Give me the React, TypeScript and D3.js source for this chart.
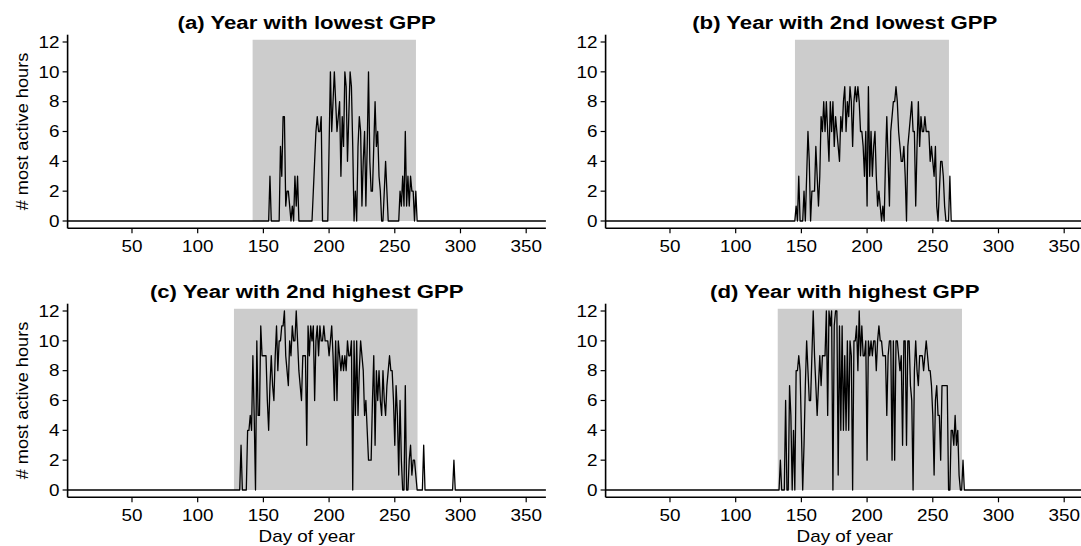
import React from "react";
import * as d3 from "d3";

// ---------- data ----------
const yTicks = [0, 2, 4, 6, 8, 10, 12];
const xTicks = [50, 100, 150, 200, 250, 300, 350];
const titles = [
  "(a) Year with lowest GPP",
  "(b) Year with 2nd lowest GPP",
  "(c) Year with 2nd highest GPP",
  "(d) Year with highest GPP",
];
const yLabel = "# most active hours";
const xLabel = "Day of year";

// growing season (gray band), day of year
const seasonStart = [141.8, 145.1, 127.6, 132.0];
const seasonEnd = [266.1, 262.3, 267.3, 272.2];

// first day of each recorded block; all other days are 0
const firstDay = [152, 145, 128, 132];

const hoursLowest = [
  0, 0, 0, 3, 0, 0, 0, 0, 0, 0, 0, 5, 3, 7, 7, 1, 2, 2, 1, 0, 1, 0, 3, 1, 3, 0,
  0, 0, 0, 0, 0, 0, 0, 0, 0,
  0, 2, 4, 6, 7, 6, 6, 7, 0, 0, 0, 0, 0,
  5, 10, 6, 8, 10, 8, 6, 7, 8, 3,
  7, 5, 10, 9, 4, 7, 10, 9, 5, 0,
  2, 0, 5, 7, 6, 1, 4, 6, 1, 5,
  10, 4, 2, 2, 5, 8, 5, 6, 3, 2,
  0, 0, 2, 4, 2, 0, 0, 0, 0, 0,
  0, 0, 0, 0, 2, 1, 3, 1, 6, 1,
  3, 1, 3, 2, 2, 0, 2, 0,
];

const hours2ndLowest = [
  0, 1, 0, 3, 0, 0, 0, 2, 0, 3, 6, 4, 0, 2, 2,
  2, 5, 3, 1, 3, 7, 6, 8, 6, 8,
  6, 4, 8, 6, 8, 5, 7, 6, 5, 4,
  7, 6, 8, 9, 6, 8, 7, 9, 8, 5,
  8, 9, 8, 9, 8, 6, 6, 5, 3, 6,
  1, 9, 3, 6, 3, 5, 6, 3, 1, 2,
  1, 0, 1, 0, 4, 7, 4, 1, 6, 7,
  8, 8, 9, 8, 6, 5, 4, 4, 5, 3,
  0, 5, 6, 7, 8, 6, 6, 1, 5, 8,
  5, 7, 6, 6, 7, 6, 6, 6, 4, 5,
  4, 3, 5, 1, 0, 2, 4, 4, 3, 1,
  0, 0, 0, 3, 0,
];

const hours2ndHighest = [
  0, 0, 0, 0, 0, 3, 0, 0, 0, 0, 4, 4,
  5, 4, 9, 5, 0, 10, 5, 5, 11, 9,
  9, 9, 9, 6, 4, 7, 9, 7, 6, 9,
  11, 8, 10, 10, 11, 11, 12, 9, 8, 7,
  10, 9, 11, 10, 10, 12, 10, 8, 7, 6,
  9, 9, 9, 3, 11, 9, 11, 10, 11, 6,
  10, 11, 9, 11, 10, 10, 11, 10, 10, 10,
  9, 10, 11, 9, 6, 10, 6, 10, 9, 8,
  9, 8, 9, 8, 10, 9, 9, 10, 0, 10,
  5, 10, 5, 8, 10, 9, 8, 5, 6, 4,
  2, 2, 2, 6, 9, 3, 8, 6, 8, 6,
  5, 8, 6, 5, 7, 8, 9, 8, 8, 6,
  3, 7, 5, 1, 6, 2, 0, 0, 7, 0,
  0, 2, 3, 1, 2, 2, 1, 0, 0, 0,
  0, 0, 3, 0, 0, 0, 0, 0, 0, 0,
  0, 0, 0, 0, 0, 0, 0, 0, 0, 0,
  0, 0, 0, 0, 0, 2, 0,
];

const hoursHighest = [
  0, 0, 2, 0, 0, 0, 6, 0, 0, 7, 5, 0, 4, 0, 8, 8, 9, 8,
  4, 0, 3, 7, 10, 8, 6, 6, 9, 12,
  9, 7, 5, 7, 9, 7, 9, 9, 9, 12,
  5, 12, 11, 12, 0, 11, 12, 12, 1, 11,
  4, 11, 4, 9, 4, 10, 4, 10, 9, 0,
  10, 10, 11, 8, 12, 9, 11, 9, 9, 10,
  2, 10, 9, 10, 9, 10, 10, 8, 10, 11,
  10, 10, 9, 9, 9, 5, 9, 10, 10, 2,
  10, 2, 10, 10, 9, 8, 9, 3, 10, 10,
  3, 10, 10, 7, 6, 0, 8, 10, 8, 7,
  9, 9, 9, 8, 9, 10, 9, 8, 8, 7,
  5, 1, 6, 7, 5, 5, 2, 7, 7, 7,
  7, 7, 0, 0, 4, 4, 3, 5, 3, 4,
  1, 0, 0, 2, 0,
];

const seriesList = [hoursLowest, hours2ndLowest, hours2ndHighest, hoursHighest];

// ---------- layout ----------
const W = 1081;
const H = 546;
const FONT = "'Liberation Sans', Arial, Helvetica, sans-serif";
const SX = 1.18; // horizontal glyph stretch of the original rendering

const layout = [
  { x0: 67.6, x1: 545.9, yZero: 221, yTwelve: 42, left: true, bottom: false },
  { x0: 605.6, x1: 1083.9, yZero: 221, yTwelve: 42, left: false, bottom: false },
  { x0: 67.6, x1: 545.9, yZero: 490, yTwelve: 311, left: true, bottom: true },
  { x0: 605.6, x1: 1083.9, yZero: 490, yTwelve: 311, left: false, bottom: true },
];

function yearSeries(first: number, vals: number[]) {
  return d3.range(1, 366).map((day) => ({
    day,
    v: day >= first && day < first + vals.length ? vals[day - first] : 0,
  }));
}

function Panel({ idx }: { idx: number }) {
  const L = layout[idx];
  const x = d3.scaleLinear().domain([1, 365]).range([L.x0, L.x1]);
  const y = d3.scaleLinear().domain([0, 12]).range([L.yZero, L.yTwelve]);
  const data = yearSeries(firstDay[idx], seriesList[idx]);
  const line = d3
    .line<{ day: number; v: number }>()
    .x((d) => x(d.day))
    .y((d) => y(d.v));
  const axisY = y(-0.49);
  const axisTop = y(12.49);
  const cx = (L.x0 + L.x1) / 2;
  const titleY = L.yTwelve - 12.7;
  return (
    <g>
      <rect
        x={x(seasonStart[idx])}
        y={y(12.15)}
        width={x(seasonEnd[idx]) - x(seasonStart[idx])}
        height={y(0) - y(12.15)}
        fill="#cccccc"
      />
      <path d={line(data) || ""} fill="none" stroke="#000" strokeWidth={1.3} strokeLinejoin="round" />
      {/* axes */}
      <line x1={L.x0} x2={L.x0} y1={axisTop} y2={axisY} stroke="#000" strokeWidth={1.6} />
      <line x1={L.x0} x2={L.x1} y1={axisY} y2={axisY} stroke="#000" strokeWidth={1.6} />
      {yTicks.map((t) => (
        <g key={"y" + t}>
          <line x1={L.x0 - 5} x2={L.x0} y1={y(t)} y2={y(t)} stroke="#000" strokeWidth={1.2} />
          <text
            transform={`translate(${L.x0 - 8},${y(t) + 5.8}) scale(${SX},1)`}
            textAnchor="end"
            fontFamily={FONT}
            fontSize={16}
            fill="#000"
          >
            {t}
          </text>
        </g>
      ))}
      {xTicks.map((t) => (
        <g key={"x" + t}>
          <line x1={x(t)} x2={x(t)} y1={axisY} y2={axisY + 5} stroke="#000" strokeWidth={1.2} />
          <text
            transform={`translate(${x(t)},${axisY + 24}) scale(${SX},1)`}
            textAnchor="middle"
            fontFamily={FONT}
            fontSize={16}
            fill="#000"
          >
            {t}
          </text>
        </g>
      ))}
      <text
        transform={`translate(${cx},${titleY}) scale(${SX},1)`}
        textAnchor="middle"
        fontFamily={FONT}
        fontSize={18.8}
        fontWeight="bold"
        fill="#000"
      >
        {titles[idx]}
      </text>
      {L.left && (
        <text
          transform={`translate(28.3,${(axisTop + axisY) / 2}) rotate(-90) scale(1.07,1)`}
          textAnchor="middle"
          fontFamily={FONT}
          fontSize={17}
          fill="#000"
        >
          {yLabel}
        </text>
      )}
      {L.bottom && (
        <text
          transform={`translate(${cx},${axisY + 44.4}) scale(${SX},1)`}
          textAnchor="middle"
          fontFamily={FONT}
          fontSize={16}
          fill="#000"
        >
          {xLabel}
        </text>
      )}
    </g>
  );
}

export default function App() {
  return (
    <svg
      width={W}
      height={H}
      viewBox={`0 0 ${W} ${H}`}
      style={{ position: "absolute", left: 0, top: 0, background: "#fff", overflow: "hidden" }}
    >
      <rect x={0} y={0} width={W} height={H} fill="#fff" />
      {[0, 1, 2, 3].map((i) => (
        <Panel key={i} idx={i} />
      ))}
    </svg>
  );
}
